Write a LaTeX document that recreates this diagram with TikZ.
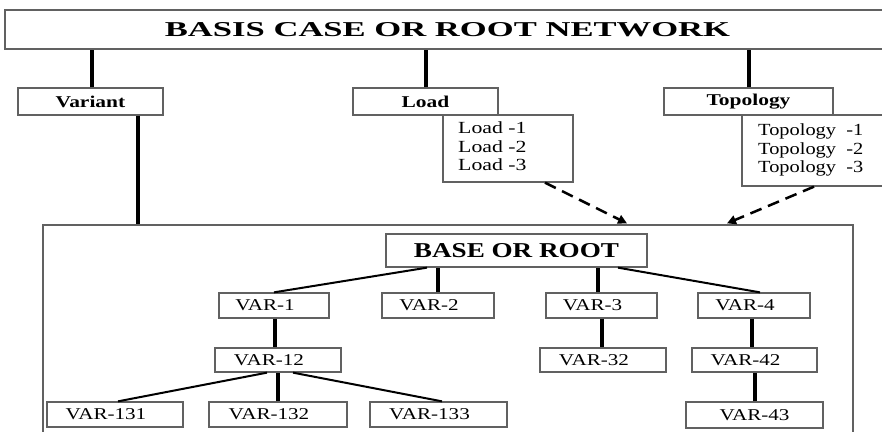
\documentclass[tikz,border=0pt]{standalone}
\usepackage{fontspec}
\setmainfont{Liberation Serif}
\usepackage{graphicx}
\usetikzlibrary{arrows.meta}
\definecolor{boxline}{gray}{0.38}
\newcommand{\hs}[1]{\scalebox{1.3}[1]{#1}}
\newcommand{\vt}[1]{\hspace*{-18pt}\scalebox{1.28}[1]{#1}}
\begin{document}
\begin{tikzpicture}[x=1pt, y=-1pt,
  box/.style={draw=boxline, line width=1.3pt, inner sep=0pt, fill=white},
  hdr/.style={box, minimum height=27pt, font=\fontsize{16.5}{18}\selectfont\bfseries},
  var/.style={box, minimum height=25pt, font=\fontsize{16.5}{18}\selectfont},
  listtxt/.style={inner sep=0pt, anchor=west, align=left, font=\fontsize{17}{18.5}\selectfont},
  thickln/.style={line width=4pt},
  thinln/.style={line width=2pt},
  dashln/.style={line width=2.5pt, dash pattern=on 12pt off 7pt, -{Triangle[length=9pt,width=9pt]}}]
\clip (0,0) rectangle (882,431);
\fill[white] (0,0) rectangle (882,431);
% top level
\node[box, minimum width=885pt, minimum height=39pt] (title) at (447.5,29.5)
  {\resizebox{565pt}{14pt}{\bfseries BASIS CASE OR ROOT NETWORK}};
\node[hdr, minimum width=145pt] (variant) at (90.5,101.5) {\hs{Variant}};
\node[hdr, minimum width=145pt] (load) at (425.5,101.5) {\hs{Load}};
\node[hdr, minimum width=169pt] (topo) at (748.5,101.5) {\hs{Topology}};
\node[box, minimum width=130pt, minimum height=67pt] (loadlist) at (508,148.5) {};
\node[listtxt] (loadtxt) at (458,148.5) {\scalebox{1.28}[1]{\begin{tabular}{@{}l@{}}Load -1\\Load -2\\Load -3\end{tabular}}};
\node[box, minimum width=144pt, minimum height=71pt] (topolist) at (814,150.5) {};
\node[listtxt] (topotxt) at (758,150.5) {\scalebox{1.2}[1]{\begin{tabular}{@{}l@{}}Topology\enspace -1\\Topology\enspace -2\\Topology\enspace -3\end{tabular}}};
% big box
\node[box, minimum width=810pt, minimum height=215pt] (bigbox) at (448,332.5) {};
\node[box, minimum width=261pt, minimum height=33pt] (base) at (516.5,250.5)
  {\resizebox{205pt}{14pt}{\bfseries BASE OR ROOT}};
\node[var, minimum width=110pt] (var1) at (274,305.5) {\vt{VAR-1}};
\node[var, minimum width=112pt] (var2) at (438,305.5) {\vt{VAR-2}};
\node[var, minimum width=111pt] (var3) at (601.5,305.5) {\vt{VAR-3}};
\node[var, minimum width=112pt] (var4) at (754,305.5) {\vt{VAR-4}};
\node[var, minimum width=126pt, minimum height=24pt] (var12) at (278,360) {\vt{VAR-12}};
\node[var, minimum width=126pt, minimum height=24pt] (var32) at (603,360) {\vt{VAR-32}};
\node[var, minimum width=125pt, minimum height=24pt] (var42) at (754.5,360) {\vt{VAR-42}};
\node[var, minimum width=136pt] (var131) at (115,414.5) {\vt{VAR-131}};
\node[var, minimum width=138pt] (var132) at (278,414.5) {\vt{VAR-132}};
\node[var, minimum width=137pt] (var133) at (438.5,414.5) {\vt{VAR-133}};
\node[var, minimum width=137pt, minimum height=26pt] (var43) at (754.5,415) {\scalebox{1.28}[1]{VAR-43}};
% connectors top
\draw[thickln] ([xshift=1.5pt]variant.north) -- ([xshift=1.5pt]variant.north |- title.south);
\draw[thickln] (load.north) -- (load.north |- title.south);
\draw[thickln] (topo.north) -- (topo.north |- title.south);
\draw[thickln] ([xshift=47.5pt]variant.south) -- ([xshift=47.5pt]variant.south |- bigbox.north);
\draw[dashln] ([xshift=37pt]loadlist.south) -- ([xshift=179pt,yshift=1pt]bigbox.north);
\draw[dashln] (topolist.south) -- ([xshift=279pt,yshift=1pt]bigbox.north);
% connectors inside
\draw[thinln] ([xshift=-89.5pt]base.south) -- (var1.north);
\draw[thickln] (var2.north) -- (var2.north |- base.south);
\draw[thickln] ([xshift=-4pt]var3.north) -- ([xshift=-4pt]var3.north |- base.south);
\draw[thinln] ([xshift=101.5pt]base.south) -- ([xshift=6pt]var4.north);
\draw[thickln] ([xshift=1pt]var1.south) -- ([xshift=1pt]var1.south |- var12.north);
\draw[thickln] (var3.south) -- (var3.south |- var32.north);
\draw[thickln] ([xshift=-2pt]var4.south) -- ([xshift=-2pt]var4.south |- var42.north);
\draw[thinln] ([xshift=-11pt]var12.south) -- ([xshift=3pt]var131.north);
\draw[thickln] (var132.north) -- (var132.north |- var12.south);
\draw[thinln] ([xshift=15pt]var12.south) -- ([xshift=3.5pt]var133.north);
\draw[thickln] (var43.north) -- (var43.north |- var42.south);
\end{tikzpicture}
\end{document}
